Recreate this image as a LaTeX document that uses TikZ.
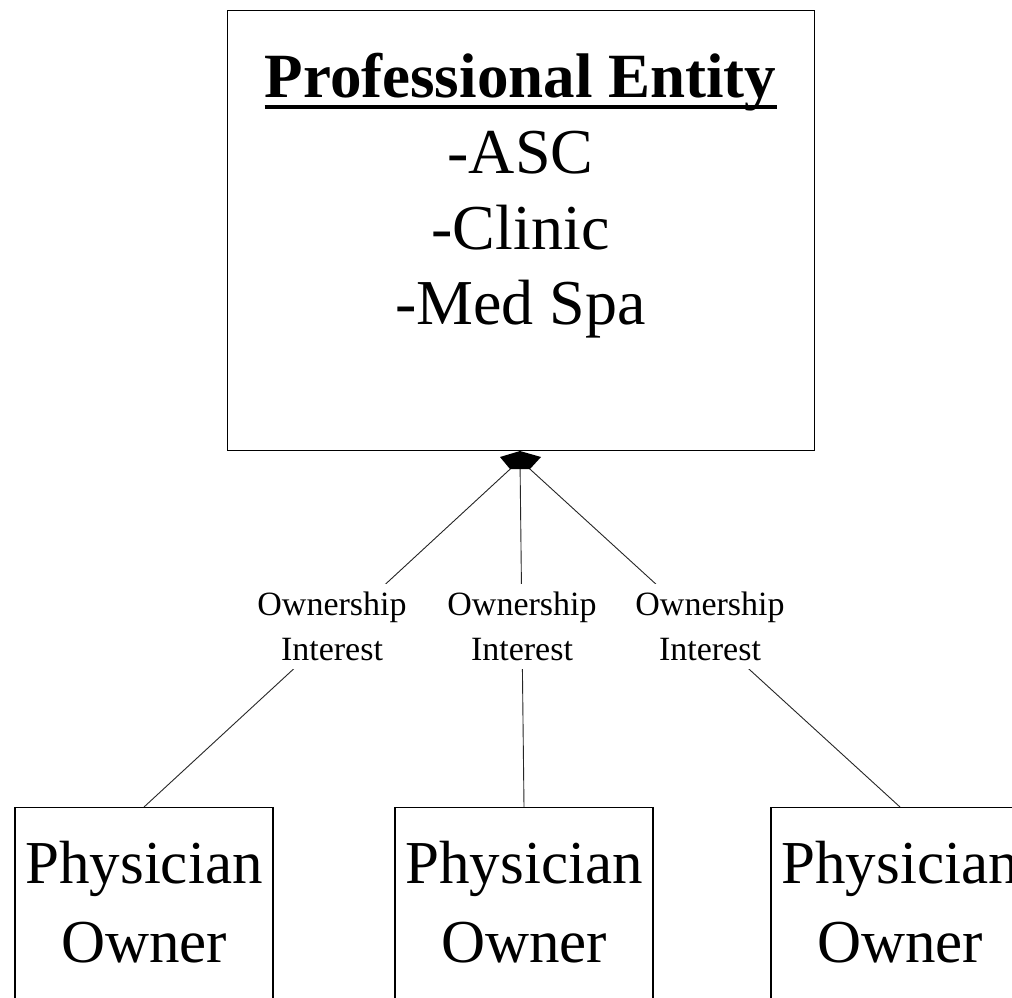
\documentclass[tikz,border=0pt]{standalone}
\usepackage{fontspec}
\setmainfont{Liberation Serif}
\begin{document}
\begin{tikzpicture}[x=1pt,y=-1pt,
  box/.style={draw=black, line width=1.2pt, fill=white, inner sep=0pt},
  link/.style={draw=black!85, line width=0.9pt},
  ownlabel/.style={fill=white, align=center, inner sep=8pt,
    font=\fontsize{34}{45}\selectfont, yshift=7pt},
  titletext/.style={font=\fontsize{63}{76}\selectfont\bfseries, inner sep=0pt, anchor=base},
  itemtext/.style={font=\fontsize{64}{76}\selectfont, inner sep=0pt, anchor=base},
  ownerbox/.style={box, minimum width=258pt, minimum height=260pt, anchor=north},
  ownertext/.style={font=\fontsize{61}{79}\selectfont, inner sep=0pt, anchor=base},
]
\useasboundingbox (0,0) rectangle (1012,997);
\clip (0,0) rectangle (1012,997);
\fill[white] (0,0) rectangle (1012,997);

% professional entity box
\node[box, minimum width=587pt, minimum height=440pt, anchor=north west] (entity) at (227,10) {};
\node[titletext] (title) at (520.5,97) {Professional Entity};
\draw[line width=4pt] ([yshift=-10pt]title.base west) -- ([yshift=-10pt]title.base east);
\node[itemtext] (asc) at (520.5,173) {-ASC};
\node[itemtext] (clinic) at (520.5,249) {-Clinic};
\node[itemtext] (medspa) at (520.5,324) {-Med Spa};

% physician owner boxes
\node[ownerbox] (own1) at (144,807) {};
\node[ownerbox] (own2) at (524,807) {};
\node[ownerbox] (own3) at (900,807) {};
\node[ownertext] (own1a) at (144,883) {Physician};
\node[ownertext] (own1b) at (144,962) {Owner};
\node[ownertext] (own2a) at (524,883) {Physician};
\node[ownertext] (own2b) at (524,962) {Owner};
\node[ownertext] (own3a) at (900,883) {Physician};
\node[ownertext] (own3b) at (900,962) {Owner};

% ownership links meeting at the aggregation head
\coordinate (hub) at (520,460);
\draw[link] (hub) -- node[ownlabel] (lab1) {Ownership\\Interest} (own1.north);
\draw[link] (hub) -- node[ownlabel] (lab2) {Ownership\\Interest} (own2.north);
\draw[link] (hub) -- node[ownlabel] (lab3) {Ownership\\Interest} (own3.north);
\fill[black] (520,451) -- (541,457) -- (530,469) -- (510,469) -- (500,457) -- cycle;
\end{tikzpicture}
\end{document}
